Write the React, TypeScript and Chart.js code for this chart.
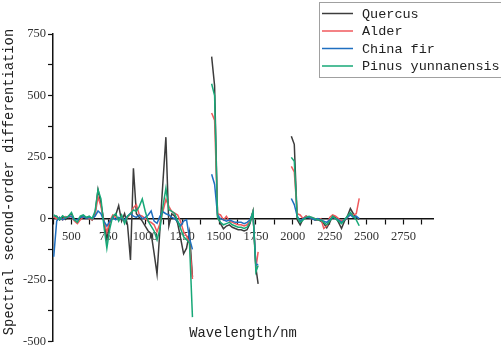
import React, { useEffect, useRef } from "react";
import { Chart, registerables } from "chart.js";

Chart.register(...registerables);

// Wavelength grid (nm); null entries mark the gaps between measured bands
const wavelengths1 = [380, 400, 420, 440, 460, 480, 500, 520, 540, 560, 580, 600, 620, 640, 660, 680, 700, 720, 740, 760, 780, 800, 820, 840, 860, 880, 900, 920, 940, 960, 980, 1000, 1020, 1040, 1060, 1080, 1100, 1120, 1140, 1160, 1180, 1200, 1220, 1240, 1260, 1280, 1300, 1320];
const wavelengths2 = [1450, 1470, 1490, 1510, 1530, 1550, 1570, 1590, 1610, 1630, 1650, 1670, 1690, 1710, 1730, 1750, 1765];
const wavelengths3 = [1990, 2010, 2030, 2050, 2070, 2090, 2110, 2130, 2150, 2170, 2190, 2210, 2230, 2250, 2270, 2290, 2310, 2330, 2350, 2370, 2390, 2410, 2430, 2450];
const gapWavelengths = [1380, 1880];

const quercus1 = [5, 10, -5, 8, -3, 10, 20, -5, -15, 5, 12, 3, 8, -5, 20, 118, 60, -10, -85, -15, 5, 15, 53, -10, 20, -25, -168, 205, 20, 5, -10, -30, -50, -60, -140, -225, -40, 150, 331, -30, 20, 10, -20, -80, -143, -120, -55, -237];
const quercus2 = [658, 540, 10, -20, -41, -30, -25, -35, -40, -45, -45, -50, -45, -20, 29, -200, -265];
const quercus3 = [335, 302, -5, -25, 0, 10, 5, 0, -5, -5, -10, -20, -37, -15, 10, 5, -15, -40, -10, 10, 41, 20, 5, -3];

const alder1 = [5, 0, 5, -5, 8, 5, 10, -10, -20, -5, 8, 5, 0, -5, 15, 88, 50, -10, -55, -10, 15, 5, -5, 10, -8, 5, 20, 45, 57, 15, 10, 0, -10, -15, -25, -53, -20, 30, 78, 50, 29, 22, 15, -13, -53, -70, -100, -245];
const alder2 = [429, 400, 20, 15, -5, 10, -10, -15, -20, -25, -25, -30, -25, -10, 29, -200, -135];
const alder3 = [212, 190, 20, 15, 0, 10, 5, 5, 0, -5, 0, -40, -30, 5, 15, 10, 0, -10, -5, 5, 20, 15, 20, 82];

const chinaFir1 = [-155, -10, 5, -5, 3, 8, 10, -5, -3, 5, 8, 2, 5, 0, 10, 31, 20, -10, -30, -10, 5, -5, 5, 0, -5, 10, 22, 10, 5, 15, 0, 5, 15, 31, -10, -19, 10, 28, 20, 15, 5, 0, -12, -29, -10, -5, -80, -125];
const chinaFir2 = [180, 140, 15, 0, -5, -10, -5, -10, -15, -15, -15, -20, -15, -5, 25, -190, -185];
const chinaFir3 = [82, 57, 10, -10, 0, 5, 5, 0, -5, 0, -5, -10, -15, -5, 5, 0, -5, -15, -5, 5, 15, 5, 10, 0];

const pinus1 = [15, 8, -5, 12, 3, 10, 25, -5, -15, 10, 15, 5, 10, 0, 30, 118, 80, -30, -120, -40, 10, 20, -10, 15, -20, 10, 20, 35, 30, 50, 80, 30, -10, -30, -50, -86, -40, 50, 123, 37, 30, 20, -10, -41, -74, -85, -100, -400];
const pinus2 = [548, 500, 5, -15, -25, -20, -15, -25, -30, -35, -35, -40, -35, -15, 29, -216, -190];
const pinus3 = [249, 233, 5, -15, -5, 5, 10, 5, 0, -5, -5, -15, -25, -10, 10, 0, -10, -20, -5, 10, 25, 10, -5, -29];

const seriesNames = ["Quercus", "Alder", "China fir", "Pinus yunnanensis"];
const seriesColors = ["#3c3c3c", "#f0595c", "#1f6fc0", "#17a877"];

const yTickLabels = [-500, -250, 0, 250, 500, 750];
const xTickLabels = [500, 750, 1000, 1250, 1500, 1750, 2000, 2250, 2500, 2750];

const wavelengths = [...wavelengths1, gapWavelengths[0], ...wavelengths2, gapWavelengths[1], ...wavelengths3];
const join = (a: number[], b: number[], c: number[]) => [...a, null, ...b, null, ...c];
const seriesValues = [
  join(quercus1, quercus2, quercus3),
  join(alder1, alder2, alder3),
  join(chinaFir1, chinaFir2, chinaFir3),
  join(pinus1, pinus2, pinus3),
];

const MONO = '"Liberation Mono", "DejaVu Sans Mono", monospace';
const SERIF = '"Liberation Serif", "DejaVu Serif", serif';

const overlayPlugin = {
  id: "overlay",
  afterDraw(chart: any) {
    const ctx = chart.ctx as CanvasRenderingContext2D;
    const area = chart.chartArea;
    ctx.save();
    ctx.fillStyle = "#222";
    ctx.textBaseline = "middle";
    // y-axis title
    ctx.save();
    ctx.translate(9, 182);
    ctx.rotate(-Math.PI / 2);
    ctx.textAlign = "center";
    ctx.font = `13.8px ${MONO}`;
    ctx.fillText("Spectral second-order differentiation", 0, 0);
    ctx.restore();
    // x-axis title
    ctx.font = `13.8px ${MONO}`;
    ctx.textAlign = "center";
    ctx.fillText("Wavelength/nm", (area.left + area.right) / 2, 333);
    // legend
    ctx.fillStyle = "#fff";
    ctx.fillRect(319.5, 2.5, 183, 75);
    ctx.strokeStyle = "#a0a0a0";
    ctx.lineWidth = 1;
    ctx.strokeRect(319.5, 2.5, 183, 75);
    ctx.textAlign = "left";
    ctx.font = `13.5px ${MONO}`;
    seriesNames.forEach((name, i) => {
      const y = 13.5 + i * 17.5;
      ctx.strokeStyle = seriesColors[i];
      ctx.lineWidth = 1.5;
      ctx.beginPath();
      ctx.moveTo(322, y);
      ctx.lineTo(353, y);
      ctx.stroke();
      ctx.fillStyle = "#222";
      ctx.fillText(name, 362, y + 0.5);
    });
    ctx.restore();
  },
};

export default function App() {
  const canvasRef = useRef<HTMLCanvasElement | null>(null);

  useEffect(() => {
    const canvas = canvasRef.current;
    if (!canvas) return;
    document.body.style.overflow = "hidden";
    const datasets = seriesNames.map((name, i) => ({
      label: name,
      data: wavelengths.map((w, j) => ({ x: w, y: seriesValues[i][j] })),
      borderColor: seriesColors[i],
      backgroundColor: seriesColors[i],
      borderWidth: 1.5,
      pointRadius: 0,
      tension: 0,
      spanGaps: false,
      order: 4 - i,
    }));
    const chart = new Chart(canvas, {
      type: "line",
      data: { datasets },
      options: {
        animation: false,
        responsive: false,
        devicePixelRatio: 1,
        layout: { padding: { left: 0, top: 34, right: 68, bottom: 7 } },
        plugins: {
          legend: { display: false },
          tooltip: { enabled: false },
        },
        scales: {
          x: {
            type: "linear",
            position: { y: 0 } as any,
            min: 375,
            max: 2950,
            grid: {
              display: true,
              drawOnChartArea: false,
              drawTicks: true,
              tickLength: 5,
              tickColor: "#111",
              tickWidth: 1.2,
            },
            border: { display: true, color: "#111", width: 1.5 },
            ticks: {
              stepSize: 125,
              includeBounds: false,
              autoSkip: false,
              maxRotation: 0,
              padding: 7,
              color: "#333",
              font: { family: SERIF, size: 12.5, lineHeight: 1 },
              callback: (v: any) => (xTickLabels.includes(Number(v)) ? String(v) : ""),
            },
          },
          y: {
            type: "linear",
            min: -500,
            max: 750,
            afterFit: (scale: any) => {
              scale.width = 53;
            },
            grid: {
              display: true,
              drawOnChartArea: false,
              drawTicks: true,
              tickLength: 5,
              tickColor: "#111",
              tickWidth: 1.2,
            },
            border: { display: true, color: "#111", width: 1.5 },
            ticks: {
              stepSize: 125,
              autoSkip: false,
              padding: 2,
              color: "#333",
              font: { family: SERIF, size: 12.5, lineHeight: 1 },
              callback: (v: any) => (yTickLabels.includes(Number(v)) ? String(v) : ""),
            },
          },
        },
      },
      plugins: [overlayPlugin],
    });
    return () => chart.destroy();
  }, []);

  return (
    <div style={{ position: "fixed", left: 0, top: 0, width: 501, height: 350, background: "#fff", overflow: "hidden" }}>
      <canvas ref={canvasRef} width={501} height={350} style={{ width: 501, height: 350, display: "block" }} />
    </div>
  );
}
